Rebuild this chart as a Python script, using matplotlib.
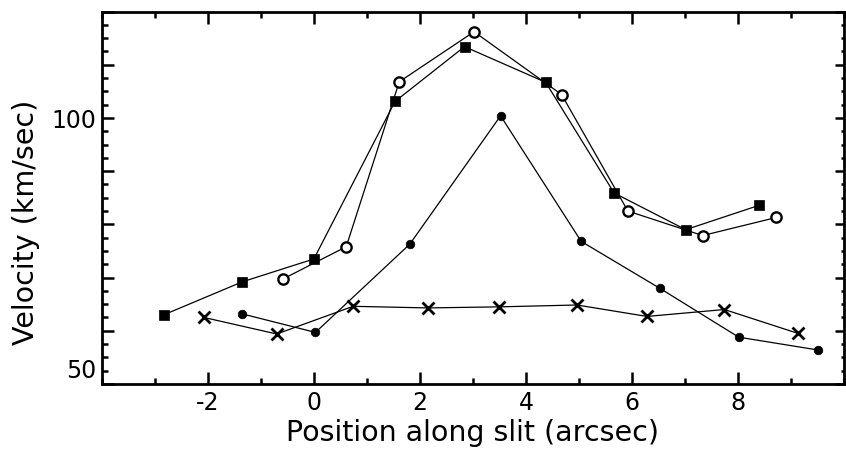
import matplotlib
matplotlib.use("Agg")
import matplotlib.pyplot as plt
import matplotlib.transforms as mtransforms
from matplotlib.ticker import MultipleLocator, FixedLocator

plt.rcParams['font.family'] = ['DejaVu Sans']
plt.rcParams['axes.unicode_minus'] = False

# Velocity profiles along the slit
sq_x = [-2.83, -1.35, 0.00, 1.53, 2.84, 4.37, 5.66, 7.01, 8.40]
sq_y = [63.0, 69.2, 73.5, 103.1, 113.4, 106.7, 85.9, 79.0, 83.6]

oc_x = [-0.59, 0.61, 1.61, 3.02, 4.67, 5.92, 7.33, 8.72]
oc_y = [69.7, 75.8, 106.8, 116.2, 104.4, 82.5, 77.9, 81.3]

fc_x = [-1.36, 0.03, 1.81, 3.52, 5.04, 6.52, 8.01, 9.50]
fc_y = [63.2, 59.7, 76.3, 100.4, 76.8, 68.0, 58.8, 56.4]

xx_x = [-2.07, -0.70, 0.74, 2.15, 3.49, 4.96, 6.28, 7.74, 9.13]
xx_y = [62.5, 59.4, 64.6, 64.3, 64.5, 64.85, 62.7, 64.0, 59.5]

x_ticks = [-2, 0, 2, 4, 6, 8]
y_ticks = [50, 60, 70, 80, 90, 100, 110, 120]
y_labels = ['50', '', '', '', '', '100', '', '']

fig = plt.figure(figsize=(8.46, 4.52), dpi=100)
ax = fig.add_axes([0.1202, 0.1482, 0.998 - 0.1202, 0.9723 - 0.1482])

lw = 0.9
ax.plot(sq_x, sq_y, color='black', lw=lw, marker='s', ms=6.5,
        mfc='black', mec='black', mew=0.5)
ax.plot(oc_x, oc_y, color='black', lw=lw, marker='o', ms=7.4,
        mfc='white', mec='black', mew=1.7)
ax.plot(fc_x, fc_y, color='black', lw=lw, marker='o', ms=6.2,
        mfc='black', mec='black', mew=0.5)
ax.plot(xx_x, xx_y, color='black', lw=lw, marker='x', ms=8,
        mec='black', mew=2.0)

ax.set_xlim(-4, 10)
ax.set_ylim(50, 120)

ax.xaxis.set_major_locator(FixedLocator(x_ticks))
ax.xaxis.set_minor_locator(MultipleLocator(1))
ax.yaxis.set_major_locator(FixedLocator(y_ticks))
ax.set_yticklabels(y_labels)
ax.yaxis.set_minor_locator(MultipleLocator(2.5))

for s in ax.spines.values():
    s.set_linewidth(2.0)

ax.tick_params(which='both', direction='in', top=True, right=True,
               width=1.8, labelsize=17, colors='black')
ax.tick_params(which='major', length=8.5, pad=4)
ax.tick_params(which='minor', length=4.5)

# shorter ticks on the right-hand axis
for t in ax.yaxis.get_major_ticks():
    t.tick2line.set_markersize(6.5)
for t in ax.yaxis.get_minor_ticks():
    t.tick2line.set_markersize(2.5)

# lift the lowest y label off the corner
lbl = ax.yaxis.get_majorticklabels()[0]
lbl.set_transform(lbl.get_transform() +
                  mtransforms.ScaledTranslation(0, 17 / 100, fig.dpi_scale_trans))

ax.set_xlabel('Position along slit (arcsec)', fontsize=20.5, labelpad=3)
ax.set_ylabel('Velocity (km/sec)', fontsize=20.5, labelpad=6.5)
ax.yaxis.set_label_coords(-0.083, 0.4376)

fig.savefig('out.png', dpi=100)
